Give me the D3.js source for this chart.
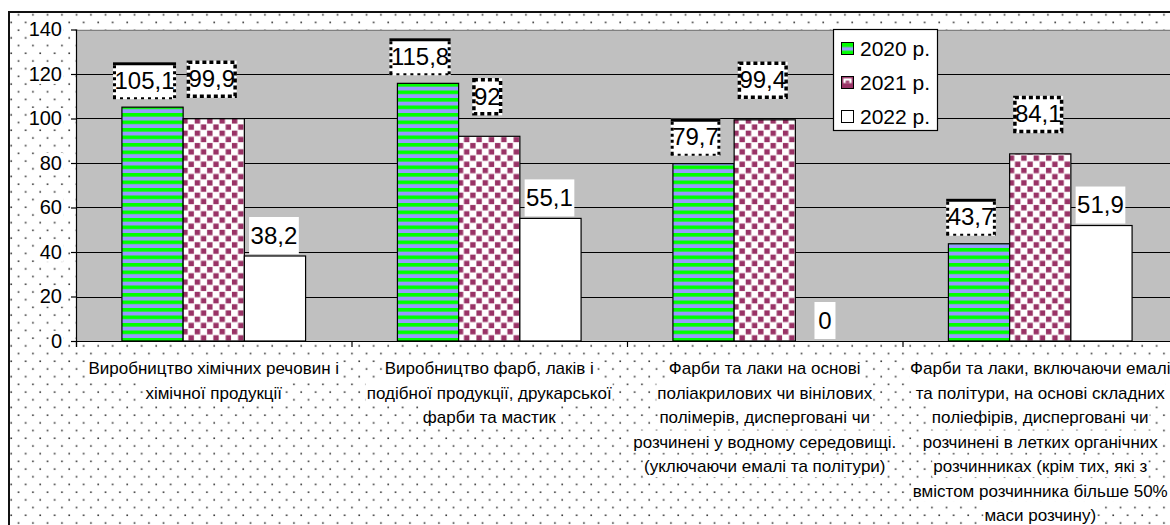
<!DOCTYPE html>
<html><head><meta charset="utf-8">
<script src="https://cdn.jsdelivr.net/npm/d3@7"></script>
<style>
body{margin:0;background:#fff;overflow:hidden;}
svg{display:block;font-family:"Liberation Sans",Arial,sans-serif;}
</style>
</head><body>
<svg id="c" width="1170" height="525"></svg>
<script>
// ---------- data ----------
const categories = [
  "Виробництво хімічних речовин і хімічної продукції",
  "Виробництво фарб, лаків і подібної продукції, друкарської фарби та мастик",
  "Фарби та лаки на основі поліакрилових чи вінілових полімерів, дисперговані чи розчинені у водному середовищі. (уключаючи емалі та політури)",
  "Фарби та лаки, включаючи емалі та політури, на основі складних поліефірів, дисперговані чи розчинені в летких органічних розчинниках (крім тих, які з вмістом розчинника більше 50% маси розчину)"
];
const categoryLines = [
  ["Виробництво хімічних речовин і", "хімічної продукції"],
  ["Виробництво фарб, лаків і", "подібної продукції, друкарської", "фарби та мастик"],
  ["Фарби та лаки на основі", "поліакрилових чи вінілових", "полімерів, дисперговані чи", "розчинені у водному середовищі.", "(уключаючи емалі та політури)"],
  ["Фарби та лаки, включаючи емалі", "та політури, на основі складних", "поліефірів, дисперговані чи", "розчинені в летких органічних", "розчинниках (крім тих, які з", "вмістом розчинника більше 50%", "маси розчину)"]
];
const seriesNames = ["2020 р.", "2021 р.", "2022 р."];
const values2020 = [105.1, 115.8, 79.7, 43.7];
const values2021 = [99.9, 92, 99.4, 84.1];
const values2022 = [38.2, 55.1, 0, 51.9];
const yTicks = [0, 20, 40, 60, 80, 100, 120, 140];

// ---------- styles ----------
const seriesValues = [values2020, values2021, values2022];
const seriesFill = ["url(#stripes)", "url(#checks)", "#ffffff"];
const legendFill = ["url(#lg0)", "url(#lg1)", "#ffffff"];
const labelStyle = [
  {dx: -8, gap: 8, border: "top"},
  {dx: -2, gap: 21, border: "dash"},
  {dx: -1, gap: 2, border: "none"}
];

const svg = d3.select("#c");
const defs = svg.append("defs");

// dotted chart-area pattern
const dots = defs.append("pattern").attr("id", "dots").attr("patternUnits", "userSpaceOnUse")
  .attr("x", 10).attr("y", 5.9).attr("width", 14.5).attr("height", 15.4);
dots.append("rect").attr("width", 14.5).attr("height", 15.4).attr("fill", "#fff");
dots.append("rect").attr("x", 0.4).attr("y", 0.4).attr("width", 1.6).attr("height", 1.6).attr("fill", "#333");
dots.append("rect").attr("x", 7.65).attr("y", 8.1).attr("width", 1.6).attr("height", 1.6).attr("fill", "#333");

// stripes for 2020
const st = defs.append("pattern").attr("id", "stripes").attr("patternUnits", "userSpaceOnUse")
  .attr("x", 0).attr("y", 0.5).attr("width", 8).attr("height", 7.5);
st.append("rect").attr("width", 8).attr("height", 7.5).attr("fill", "#9999ff");
st.append("rect").attr("width", 8).attr("height", 3.6).attr("fill", "#00ff00");

// checks for 2021
const ck = defs.append("pattern").attr("id", "checks").attr("patternUnits", "userSpaceOnUse")
  .attr("x", 0.5).attr("y", 0).attr("width", 12.4).attr("height", 12.4);
ck.append("rect").attr("width", 12.4).attr("height", 12.4).attr("fill", "#ffffff");
ck.append("rect").attr("x", 0.4).attr("y", 0.4).attr("width", 5.4).attr("height", 5.4).attr("fill", "#993366");
ck.append("rect").attr("x", 6.6).attr("y", 6.6).attr("width", 5.4).attr("height", 5.4).attr("fill", "#993366");

// legend swatch patterns
const lg0 = defs.append("pattern").attr("id", "lg0").attr("patternContentUnits", "objectBoundingBox").attr("width", 1).attr("height", 1);
lg0.append("rect").attr("width", 1).attr("height", 1).attr("fill", "#00ff00");
lg0.append("rect").attr("y", 0.38).attr("width", 1).attr("height", 0.3).attr("fill", "#9999ff");
const lg1 = defs.append("pattern").attr("id", "lg1").attr("patternContentUnits", "objectBoundingBox").attr("width", 1).attr("height", 1);
lg1.append("rect").attr("width", 1).attr("height", 1).attr("fill", "#993366");
lg1.append("rect").attr("x", 0.15).attr("y", 0.15).attr("width", 0.7).attr("height", 0.4).attr("fill", "#ffffff");
lg1.append("rect").attr("x", 0.35).attr("y", 0.35).attr("width", 0.3).attr("height", 0.2).attr("fill", "#993366");

// ---------- layout ----------
const plot = {left: 76, right: 1178, top: 29.5, bottom: 341};

// chart area
svg.append("rect").attr("x", 9).attr("y", 12).attr("width", 1200).attr("height", 540)
  .attr("fill", "url(#dots)").attr("stroke", "#111").attr("stroke-width", 2);

const y = d3.scaleLinear().domain([0, 140]).range([plot.bottom, plot.top]);
const x0 = d3.scaleBand().domain(categories).range([plot.left, plot.right]).paddingInner(0).paddingOuter(0);
const x1 = d3.scaleBand().domain(seriesNames).range([0, x0.bandwidth()]).paddingInner(0).paddingOuter(0.75);

// plot area
svg.append("rect").attr("x", plot.left).attr("y", plot.top)
  .attr("width", plot.right - plot.left).attr("height", plot.bottom - plot.top)
  .attr("fill", "#c0c0c0");
svg.append("line").attr("x1", plot.left).attr("x2", plot.right)
  .attr("y1", Math.round(y(140)) + 0.5).attr("y2", Math.round(y(140)) + 0.5)
  .attr("stroke", "#808080");

// gridlines
svg.append("g").selectAll("line").data(yTicks.filter(t => t > 0 && t < 140)).join("line")
  .attr("x1", plot.left).attr("x2", plot.right)
  .attr("y1", d => Math.round(y(d)) + 0.5).attr("y2", d => Math.round(y(d)) + 0.5)
  .attr("stroke", "#000").attr("stroke-width", 1.2);

// bars
const groups = svg.append("g").selectAll("g").data(categories).join("g")
  .attr("transform", d => `translate(${x0(d)},0)`);
groups.selectAll("rect").data((d, ci) => seriesNames.map((s, si) => ({s, si, v: seriesValues[si][ci]})))
  .join("rect")
  .attr("x", d => x1(d.s)).attr("width", x1.bandwidth())
  .attr("y", d => y(d.v)).attr("height", d => y(0) - y(d.v))
  .attr("fill", d => seriesFill[d.si])
  .attr("stroke", "#000").attr("stroke-width", 1.2);

// axes
const yAxis = svg.append("g").attr("transform", `translate(${plot.left},0)`)
  .call(d3.axisLeft(y).tickValues(yTicks).tickSize(5).tickPadding(9).tickFormat(d3.format("d")));
yAxis.select(".domain").remove();
yAxis.selectAll(".tick line").attr("stroke", "#000").attr("stroke-width", 1.2);
yAxis.selectAll(".tick text").attr("font-size", 20).attr("fill", "#000").attr("font-family", null);
yAxis.selectAll(".tick").each(function() {
  const t = d3.select(this).select("text");
  const bb = t.node().getBBox();
  d3.select(this).insert("rect", "text").attr("x", bb.x - 1).attr("y", bb.y + 1)
    .attr("width", bb.width + 2).attr("height", bb.height - 2).attr("fill", "#fff");
});
svg.append("line").attr("x1", plot.left + 0.5).attr("x2", plot.left + 0.5)
  .attr("y1", plot.top).attr("y2", plot.bottom + 6).attr("stroke", "#000").attr("stroke-width", 1.2);

const xAxis = svg.append("g").attr("transform", `translate(0,${plot.bottom})`);
xAxis.append("line").attr("x1", plot.left).attr("x2", plot.right).attr("y1", 0.5).attr("y2", 0.5)
  .attr("stroke", "#000").attr("stroke-width", 1.2);
xAxis.selectAll("line.tk").data(categories.map(c => x0(c)).concat([plot.right])).join("line")
  .attr("class", "tk").attr("x1", d => d + 0.5).attr("x2", d => d + 0.5).attr("y1", 0).attr("y2", 6)
  .attr("stroke", "#000").attr("stroke-width", 1.2);

// category labels
const catG = svg.append("g");
categoryLines.forEach((lines, ci) => {
  const cx = x0(categories[ci]) + x0.bandwidth() / 2;
  lines.forEach((ln, li) => {
    const by = plot.bottom + 33 + li * 24.5;
    const g = catG.append("g");
    const t = g.append("text").attr("x", cx).attr("y", by).attr("text-anchor", "middle")
      .attr("font-size", 17).attr("fill", "#000").text(ln);
    const w = t.node().getComputedTextLength();
    g.insert("rect", "text").attr("x", cx - w / 2 - 1).attr("y", by - 17).attr("width", w + 2)
      .attr("height", 22).attr("fill", "#fff");
  });
});

// data labels
const fmt = v => String(v).replace(".", ",");
const lblG = svg.append("g");
categories.forEach((c, ci) => {
  seriesNames.forEach((s, si) => {
    const v = seriesValues[si][ci];
    const st = labelStyle[si];
    const cx = x0(c) + x1(s) + x1.bandwidth() / 2 + st.dx;
    const boxBottom = y(v) - st.gap;
    const boxH = 37;
    const g = lblG.append("g");
    const t = g.append("text").attr("x", cx).attr("y", boxBottom - 10.5).attr("text-anchor", "middle")
      .attr("font-size", 24).attr("fill", "#000").text(fmt(v));
    const w = Math.max(t.node().getComputedTextLength() + 3, 21);
    const bx = cx - w / 2, by = boxBottom - boxH;
    g.insert("rect", "text").attr("x", bx).attr("y", by).attr("width", w).attr("height", boxH).attr("fill", "#fff");
    if (st.border === "top") {
      g.append("line").attr("x1", bx).attr("x2", bx + w).attr("y1", by + 1.5).attr("y2", by + 1.5)
        .attr("stroke", "#000").attr("stroke-width", 3);
      [bx + 1.5, bx + w - 1.5].forEach(xx => g.append("line").attr("x1", xx).attr("x2", xx)
        .attr("y1", by + 3).attr("y2", by + boxH).attr("stroke", "#000").attr("stroke-width", 3)
        .attr("stroke-dasharray", "3,3"));
      g.append("line").attr("x1", bx).attr("x2", bx + w).attr("y1", by + boxH - 1).attr("y2", by + boxH - 1)
        .attr("stroke", "#000").attr("stroke-width", 2).attr("stroke-dasharray", "3,4");
    } else if (st.border === "dash") {
      g.append("rect").attr("x", bx + 1.5).attr("y", by + 1.5).attr("width", w - 3).attr("height", boxH - 3)
        .attr("fill", "none").attr("stroke", "#000").attr("stroke-width", 3.5).attr("stroke-dasharray", "4,3");
    }
  });
});

// legend
const leg = svg.append("g");
leg.append("rect").attr("x", 833.5).attr("y", 29.5).attr("width", 104).attr("height", 101)
  .attr("fill", "#fff").attr("stroke", "#000").attr("stroke-width", 1.2);
seriesNames.forEach((s, i) => {
  const yy = 42 + i * 34;
  leg.append("rect").attr("x", 841.5).attr("y", yy + 0.5).attr("width", 12).attr("height", 12)
    .attr("fill", legendFill[i]).attr("stroke", "#000").attr("stroke-width", 1);
  leg.append("text").attr("x", 860).attr("y", yy + 14).attr("font-size", 21).attr("fill", "#000").text(s);
});
</script>
</body></html>
